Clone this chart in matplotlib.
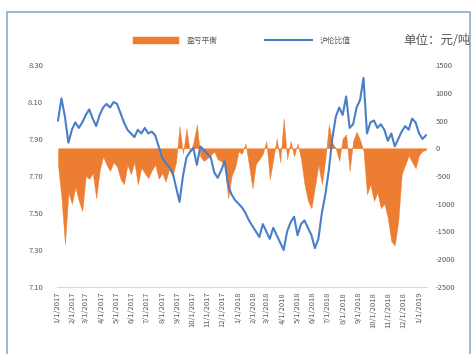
import matplotlib
matplotlib.use("Agg")
import matplotlib.pyplot as plt
import matplotlib.dates as mdates
import matplotlib.patches as mpatches
from matplotlib.ticker import FixedLocator, FuncFormatter
import pandas as pd

plt.rcParams['font.family'] = ['Noto Sans CJK SC', 'DejaVu Sans']

# ---- data (weekly readings from the chart) ----
start_date = "2017-01-03"
ratio = [8.00, 8.12, 8.02, 7.88, 7.95, 7.99, 7.96, 7.99, 8.03, 8.06,
         8.01, 7.97, 8.03, 8.07, 8.09, 8.07, 8.10, 8.09, 8.04, 7.99,
         7.95, 7.93, 7.91, 7.95, 7.93, 7.96, 7.93, 7.94, 7.92, 7.86,
         7.80, 7.77, 7.75, 7.72, 7.64, 7.56, 7.70, 7.80, 7.83, 7.85,
         7.76, 7.86, 7.84, 7.82, 7.80, 7.72, 7.69, 7.73, 7.78, 7.65,
         7.60, 7.57, 7.55, 7.53, 7.50, 7.46, 7.43, 7.40, 7.37, 7.44,
         7.40, 7.36, 7.42, 7.38, 7.34, 7.30, 7.40, 7.45, 7.48, 7.38,
         7.44, 7.46, 7.42, 7.38, 7.31, 7.36, 7.50, 7.60, 7.73, 7.90,
         8.02, 8.07, 8.03, 8.13, 7.96, 7.98, 8.07, 8.11, 8.23, 7.93,
         7.99, 8.00, 7.96, 7.98, 7.95, 7.89, 7.93, 7.86, 7.90, 7.94,
         7.97, 7.95, 8.01, 7.99, 7.93, 7.90, 7.92]
profit = [-300, -900, -1730, -800, -1000, -700, -950, -1130, -500, -550,
          -450, -900, -400, -150, -300, -410, -250, -330, -550, -650,
          -300, -470, -250, -650, -350, -450, -540, -400, -300, -550,
          -450, -600, -380, -500, -250, 400, -100, 360, -80, 100,
          430, -150, -230, -180, -120, -60, -200, -230, -300, -900,
          -500, -350, -60, -100, 90, -300, -720, -280, -200, -100,
          130, -560, -200, 180, -250, 540, -200, 130, -150, 90,
          -200, -650, -950, -1080, -700, -300, -650, -200, 430, 100,
          0, -230, 180, 250, -410, 130, 300, 150, -50, -830,
          -650, -950, -800, -1080, -1000, -1260, -1680, -1750, -1320, -470,
          -300, -130, -250, -360, -120, -50, -30]
left_ticks = [7.10, 7.30, 7.50, 7.70, 7.90, 8.10, 8.30]
right_ticks = [-2500, -2000, -1500, -1000, -500, 0, 500, 1000, 1500]
series_names = ["盈亏平衡", "沪伦比值"]
unit_text = "单位：元/吨"

dates = pd.date_range(start_date, periods=len(ratio), freq="7D")

# ---- figure ----
W, H = 473, 354
fig = plt.figure(figsize=(W / 100, H / 100), dpi=100)
fig.patch.set_facecolor("white")

L, R, T, B = 57, 427, 65, 287
ax2 = fig.add_axes([L / W, 1 - B / H, (R - L) / W, (B - T) / H])  # right axis (area)
ax = ax2.twinx()
ax.yaxis.tick_left()
ax2.yaxis.tick_right()
ax.set_zorder(ax2.get_zorder() + 1)
ax.patch.set_visible(False)

orange = "#ED7D31"
blue = "#4A7EC7"
grey = "#595959"

area = ax2.fill_between(dates, 0, profit, color=orange, linewidth=0.3,
                        edgecolor=orange, label=series_names[0])
line, = ax.plot(dates, ratio, color=blue, linewidth=1.5, label=series_names[1])

ax.set_ylim(7.10, 8.30)
ax2.set_ylim(-2500, 1500)
ax.yaxis.set_major_locator(FixedLocator(left_ticks))
ax.yaxis.set_major_formatter(FuncFormatter(lambda v, p: f"{v:.2f}"))
ax2.yaxis.set_major_locator(FixedLocator(right_ticks))
ax2.yaxis.set_major_formatter(FuncFormatter(lambda v, p: f"{int(round(v))}"))

x0 = pd.Timestamp("2017-01-01")
x1 = pd.Timestamp("2019-01-17")
ax.set_xlim(x0, x1)
ax2.set_xlim(x0, x1)
ax2.xaxis.set_major_locator(mdates.MonthLocator(bymonthday=1))
ax2.xaxis.set_major_formatter(FuncFormatter(
    lambda v, p: f"{mdates.num2date(v).month}/{mdates.num2date(v).day}/{mdates.num2date(v).year}"))
ax.tick_params(axis="x", bottom=False, labelbottom=False)
ax2.tick_params(axis="x", length=0, pad=3.5, labelsize=5.5, labelcolor=grey, rotation=90)
ax.tick_params(axis="y", length=0, pad=10, labelsize=5.5, labelcolor=grey)
ax2.tick_params(axis="y", length=0, pad=6, labelsize=5.5, labelcolor=grey)

for a in (ax, ax2):
    for s in a.spines.values():
        s.set_visible(False)
ax2.spines["bottom"].set_visible(True)
ax2.spines["bottom"].set_color("#D9D9D9")
ax2.spines["bottom"].set_linewidth(0.8)

# legend
leg = fig.legend(handles=[area, line], labels=series_names, loc="center",
                 bbox_to_anchor=(241.5 / W, 1 - 41 / H), ncol=2, frameon=False,
                 fontsize=5.6, handlelength=6.0, handleheight=0.9,
                 handletextpad=1.0, columnspacing=6.0, labelcolor=grey)

fig.text(403 / W, 1 - 41 / H, unit_text, fontsize=9, color=grey,
         ha="left", va="center")

# chart-area border
border = mpatches.Rectangle((7 / W, -0.05), (470 - 7) / W, (1 - 12 / H) + 0.05,
                            transform=fig.transFigure, fill=False,
                            edgecolor="#8FA8C8", linewidth=1.2, clip_on=False)
fig.patches.append(border)

fig.savefig("out.png", dpi=100, facecolor="white")
